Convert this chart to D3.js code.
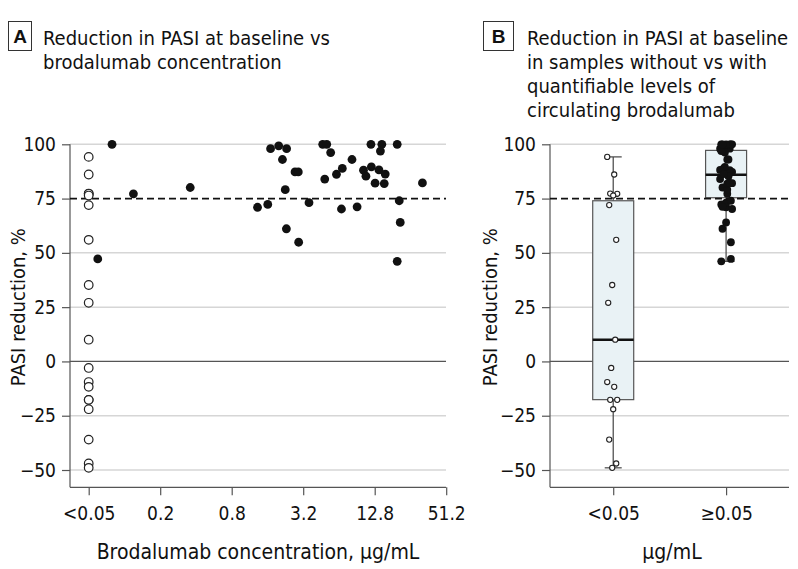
<!DOCTYPE html>
<html>
<head>
<meta charset="utf-8">
<script src="https://cdn.jsdelivr.net/npm/d3@7"></script>
<style>
  html, body { margin: 0; padding: 0; background: #fff; }
  svg { display: block; }
  text { font-family: "DejaVu Sans Condensed", "DejaVu Sans", "Noto Sans", sans-serif; font-stretch: condensed; fill: #111; }
</style>
</head>
<body>
<svg id="chart" width="798" height="569"></svg>
<script>
// ---------- Data ----------
// Panel A: samples below the limit of quantification (<0.05 µg/mL), PASI reduction %
const belowLoqValues = [94.2, 86.1, 77.3, 77.2, 76.4, 72, 56, 35.2, 27, 10, -3, -9.5, -11.7, -17.7, -17.7, -22, -36, -47, -49];
// Panel A: quantifiable samples, brodalumab concentration (µg/mL) and PASI reduction %
const concentrations = [0.0786, 0.119, 0.358, 0.0596, 1.32, 1.61, 1.70, 1.99, 2.32, 2.14,
  2.73, 2.91, 2.26, 2.31, 2.93, 3.58, 4.67, 5.05, 5.45, 4.86,
  6.10, 6.83, 6.72, 8.24, 9.10, 11.9, 14.7, 14.3, 10.3, 12.0,
  13.9, 10.8, 15.7, 12.9, 15.4, 19.8, 20.6, 21.0, 19.8, 32.3];
const quantValues = [100, 77.2, 80.1, 47.2, 71, 72.3, 98, 99.3, 98, 93,
  87.3, 87.3, 79.1, 61.1, 54.9, 73.1, 100, 100, 96.2, 84,
  86.2, 88.9, 70.2, 93, 71.2, 100, 100, 96.9, 88.1, 89.6,
  88.2, 85.3, 86.3, 82.1, 81.9, 100, 74, 64, 46.1, 82.2];
const xTickValuesA = [0.05, 0.2, 0.8, 3.2, 12.8, 51.2];
const xTickLabelsA = ["<0.05", "0.2", "0.8", "3.2", "12.8", "51.2"];
const yTickValues = [100, 75, 50, 25, 0, -25, -50];
const gridValues = [100, 50, 25, -25, -50];
const thresholdValue = 75;
// Panel B: groups and box summaries
const groups = ["<0.05", "≥0.05"];
const boxQ1 = [-17.6, 75.4];
const boxMedian = [10.0, 86.0];
const boxQ3 = [74.0, 97.2];
const whiskerLow = [-49, 46.1];
const whiskerHigh = [94.2, 100];

// ---------- Setup ----------
const svg = d3.select("#chart");
const y = d3.scaleLinear().domain([-50, 100]).range([470, 144.3]);
const yBottom = 487.3;
const TITLE_FS = 20, TICK_FS = 19, AXIS_FS = 20;

function panelLabel(x, w, letter) {
  svg.append("rect").attr("x", x + 0.5).attr("y", 21.5).attr("width", w).attr("height", 29)
    .attr("fill", "none").attr("stroke", "#333").attr("stroke-width", 1);
  svg.append("text").attr("x", x + 0.5 + w / 2).attr("y", 43).attr("text-anchor", "middle")
    .attr("font-size", 19).attr("font-weight", "bold")
    .style("font-family", "'Liberation Sans', Arial, sans-serif").style("font-stretch", "normal").text(letter);
}
function title(x, lines) {
  lines.forEach((l, i) => {
    svg.append("text").attr("x", x).attr("y", 45 + i * 24).attr("font-size", TITLE_FS).text(l);
  });
}

function yAxis(x0, x1) {
  const g = svg.append("g");
  g.selectAll(".grid").data(gridValues).join("line")
    .attr("x1", x0).attr("x2", x1).attr("y1", d => y(d)).attr("y2", d => y(d))
    .attr("stroke", "#d6d6d6").attr("stroke-width", 1.5);
  g.append("line").attr("x1", x0).attr("x2", x1).attr("y1", y(0)).attr("y2", y(0))
    .attr("stroke", "#555").attr("stroke-width", 1.3);
  const ax = svg.append("g").attr("transform", `translate(${x0},0)`)
    .call(d3.axisLeft(y).tickValues(yTickValues).tickSize(8).tickPadding(6).tickFormat(d3.format("d")));
  ax.select(".domain").remove();
  ax.selectAll(".tick line").attr("stroke", "#555").attr("stroke-width", 1.2);
  ax.selectAll(".tick text").attr("font-size", TICK_FS).attr("font-family", null).attr("fill", "#111");
  svg.append("line").attr("x1", x0).attr("x2", x0).attr("y1", y(100)).attr("y2", yBottom)
    .attr("stroke", "#555").attr("stroke-width", 1.2);
  svg.append("line").attr("x1", x0).attr("x2", x1).attr("y1", yBottom).attr("y2", yBottom)
    .attr("stroke", "#555").attr("stroke-width", 1.2);
}
function threshold(x0, x1) {
  svg.append("line").attr("x1", x0).attr("x2", x1).attr("y1", y(thresholdValue)).attr("y2", y(thresholdValue))
    .attr("stroke", "#111").attr("stroke-width", 1.6).attr("stroke-dasharray", "7,4");
}
function yLabel(cx) {
  svg.append("text").attr("transform", `translate(${cx},${y(25)}) rotate(-90)`)
    .attr("text-anchor", "middle").attr("dy", "0.35em").attr("font-size", AXIS_FS).text("PASI reduction, %");
}

// ---------- Panel A ----------
panelLabel(8, 23, "A");
title(43, ["Reduction in PASI at baseline vs", "brodalumab concentration"]);
const xA = d3.scaleLog().base(2).domain([0.05, 51.2]).range([88.7, 446.2]);
yAxis(70, 446);
yLabel(18);
const axA = svg.append("g").attr("transform", `translate(0,${yBottom})`)
  .call(d3.axisBottom(xA).tickValues(xTickValuesA).tickSize(8).tickPadding(11)
    .tickFormat((d, i) => xTickLabelsA[i]));
axA.select(".domain").remove();
axA.selectAll(".tick line").attr("stroke", "#555").attr("stroke-width", 1.2);
axA.selectAll(".tick text").attr("font-size", TICK_FS).attr("font-family", null).attr("fill", "#111");
svg.append("text").attr("x", 258).attr("y", 559).attr("text-anchor", "middle")
  .attr("font-size", 21).text("Brodalumab concentration, µg/mL");

threshold(70, 446);
svg.append("g").selectAll("circle").data(belowLoqValues).join("circle")
  .attr("cx", xA(0.05)).attr("cy", d => y(d)).attr("r", 4.3)
  .attr("fill", "#fff").attr("stroke", "#222").attr("stroke-width", 1.2);
svg.append("g").selectAll("circle").data(quantValues).join("circle")
  .attr("cx", (d, i) => xA(concentrations[i])).attr("cy", d => y(d)).attr("r", 4.4)
  .attr("fill", "#111");

// ---------- Panel B ----------
panelLabel(483, 30, "B");
title(527, ["Reduction in PASI at baseline", "in samples without vs with", "quantifiable levels of", "circulating brodalumab"]);
const xB = d3.scalePoint().domain(groups).range([550, 789.3]).padding(0.56);
yAxis(550, 789);
yLabel(490);
const axB = svg.append("g").attr("transform", `translate(0,${yBottom})`)
  .call(d3.axisBottom(xB).tickSize(8).tickPadding(11));
axB.select(".domain").remove();
axB.selectAll(".tick line").attr("stroke", "#555").attr("stroke-width", 1.2);
axB.selectAll(".tick text").attr("font-size", TICK_FS).attr("font-family", null).attr("fill", "#111");
svg.append("text").attr("x", 672).attr("y", 559).attr("text-anchor", "middle")
  .attr("font-size", 21).text("µg/mL");

const boxW = 41, capW = 17;
groups.forEach((g, i) => {
  const cx = xB(g);
  const bg = svg.append("g");
  bg.append("line").attr("x1", cx).attr("x2", cx).attr("y1", y(whiskerHigh[i])).attr("y2", y(whiskerLow[i]))
    .attr("stroke", "#444").attr("stroke-width", 1.2);
  [whiskerHigh[i], whiskerLow[i]].forEach(v => {
    bg.append("line").attr("x1", cx - capW / 2).attr("x2", cx + capW / 2).attr("y1", y(v)).attr("y2", y(v))
      .attr("stroke", "#444").attr("stroke-width", 1.2);
  });
  bg.append("rect").attr("x", cx - boxW / 2).attr("y", y(boxQ3[i])).attr("width", boxW)
    .attr("height", y(boxQ1[i]) - y(boxQ3[i])).attr("fill", "#e9f2f5").attr("stroke", "#555").attr("stroke-width", 1.2);
  bg.append("line").attr("x1", cx - boxW / 2).attr("x2", cx + boxW / 2).attr("y1", y(boxMedian[i])).attr("y2", y(boxMedian[i]))
    .attr("stroke", "#111").attr("stroke-width", 2.6);
});
threshold(550, 789);

// deterministic jitter based on index
const jit = (i, amp) => (((i * 7) % 11) / 10 - 0.5) * 2 * amp;
svg.append("g").selectAll("circle").data(belowLoqValues).join("circle")
  .attr("cx", (d, i) => xB(groups[0]) - 1 + jit(i, 5)).attr("cy", d => y(d)).attr("r", 2.6)
  .attr("fill", "#fff").attr("stroke", "#222").attr("stroke-width", 1.1);
svg.append("g").selectAll("circle").data(quantValues).join("circle")
  .attr("cx", (d, i) => xB(groups[1]) + jit(i + 3, 6)).attr("cy", d => y(d)).attr("r", 3.9)
  .attr("fill", "#111");
</script>
</body>
</html>
